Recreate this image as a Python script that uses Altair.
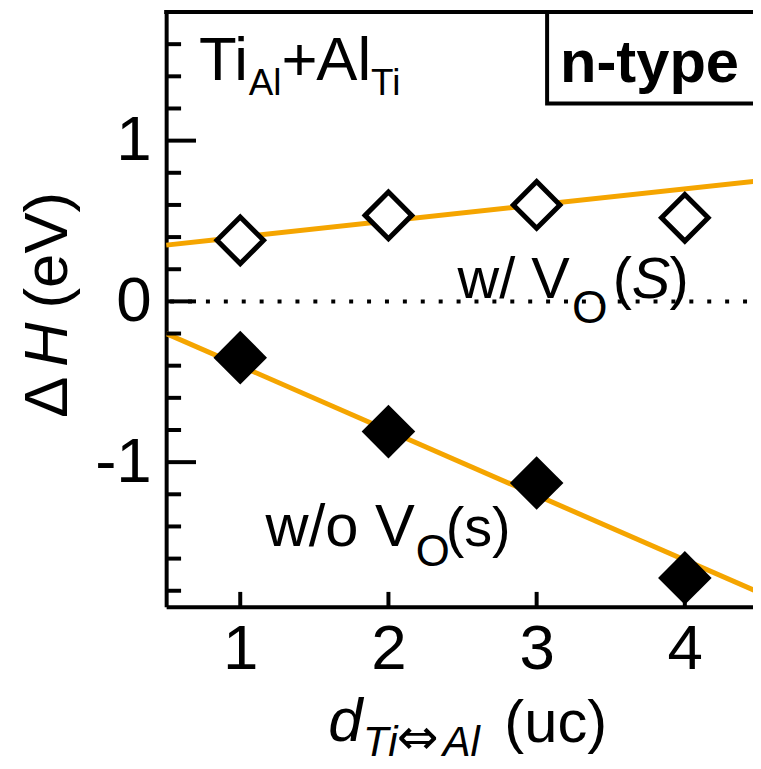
import altair as alt
import pandas as pd

# ---- data ----
x_pos = [1, 2, 3, 4]
dh_with_vo = [0.38, 0.535, 0.60, 0.52]        # open diamonds, w/ V_O(S)
dh_without_vo = [-0.35, -0.81, -1.13, -1.72]  # filled diamonds, w/o V_O(s)
fit_x = [0.5, 4.5]
fit_with = [0.35, 0.75]
fit_without = [-0.20, -1.81]
y_major_ticks = [-1, 0, 1]
y_minor_ticks = [-1.8, -1.6, -1.4, -1.2, -0.8, -0.6, -0.4, -0.2,
                 0.2, 0.4, 0.6, 0.8, 1.2, 1.4, 1.6]
x_ticks = [1, 2, 3, 4]
x_domain = [0.5, 4.46]
y_domain = [-1.9, 1.8]

W, H = 590, 598
FONT = "Liberation Sans, Arial, sans-serif"
ORANGE = "#F5A500"

xs = alt.Scale(domain=x_domain, nice=False, zero=False)
ys = alt.Scale(domain=y_domain, nice=False, zero=False)

lab_expr = "datum.value < 0 ? '-' + format(-datum.value, 'd') : format(datum.value, 'd')"

X_AX = alt.Axis(values=x_ticks, ticks=False, grid=False, title=None, labelExpr=lab_expr,
                labelFont=FONT, labelFontSize=64, labelColor="black", labelPadding=11,
                domainColor="black", domainWidth=4)
Y_AX = alt.Axis(values=y_major_ticks, ticks=False, grid=False, title=None, labelExpr=lab_expr,
                labelFont=FONT, labelFontSize=64, labelColor="black", labelPadding=15,
                domainColor="black", domainWidth=4)

pts = pd.DataFrame({"x": x_pos, "w": dh_with_vo, "wo": dh_without_vo})
fits = pd.DataFrame({"x": fit_x, "w": fit_with, "wo": fit_without})

fit_w = alt.Chart(fits).mark_line(color=ORANGE, strokeWidth=5, clip=True).encode(
    x=alt.X("x:Q", scale=xs, axis=X_AX), y=alt.Y("w:Q", scale=ys, axis=Y_AX))
fit_wo = alt.Chart(fits).mark_line(color=ORANGE, strokeWidth=5, clip=True).encode(
    x=alt.X("x:Q", scale=xs, axis=X_AX), y=alt.Y("wo:Q", scale=ys, axis=Y_AX))

zero_line = alt.Chart(pd.DataFrame({"y": [0]})).mark_rule(
    color="black", strokeWidth=4, strokeDash=[4, 14], strokeDashOffset=14
).encode(y=alt.Y("y:Q", scale=ys, axis=Y_AX), x=alt.value(0), x2=alt.value(W))

open_pts = alt.Chart(pts).mark_point(
    shape="diamond", filled=True, fill="white", stroke="black",
    strokeWidth=5, size=2200, opacity=1
).encode(x=alt.X("x:Q", scale=xs, axis=X_AX), y=alt.Y("w:Q", scale=ys, axis=Y_AX))
filled_pts = alt.Chart(pts).mark_point(
    shape="diamond", filled=True, color="black", size=2900, opacity=1
).encode(x=alt.X("x:Q", scale=xs, axis=X_AX), y=alt.Y("wo:Q", scale=ys, axis=Y_AX))

ymaj = alt.Chart(pd.DataFrame({"v": y_major_ticks})).mark_rule(
    color="black", strokeWidth=4).encode(
    y=alt.Y("v:Q", scale=ys, axis=Y_AX), x=alt.value(0), x2=alt.value(30))
ymin = alt.Chart(pd.DataFrame({"v": y_minor_ticks})).mark_rule(
    color="black", strokeWidth=4).encode(
    y=alt.Y("v:Q", scale=ys, axis=Y_AX), x=alt.value(0), x2=alt.value(15))
xtk = alt.Chart(pd.DataFrame({"v": x_ticks})).mark_rule(
    color="black", strokeWidth=4).encode(
    x=alt.X("v:Q", scale=xs, axis=X_AX), y=alt.value(H - 15), y2=alt.value(H))

top_border = alt.Chart(pd.DataFrame({"a": [0]})).mark_rule(
    color="black", strokeWidth=4).encode(
    y=alt.value(0), x=alt.value(-2), x2=alt.value(W + 30))

box = alt.Chart(pd.DataFrame({"a": [0]})).mark_rect(
    fill="white", stroke="black", strokeWidth=4).encode(
    x=alt.value(383), x2=alt.value(W + 30), y=alt.value(0), y2=alt.value(92))


def txt(s, px, py, size, style="normal", weight="normal", angle=0, align="left", font=FONT):
    return alt.Chart(pd.DataFrame({"t": [s]})).mark_text(
        font=font, fontSize=size, fontStyle=style, fontWeight=weight,
        angle=angle, align=align, baseline="alphabetic", color="black"
    ).encode(text="t:N", x=alt.value(px), y=alt.value(py))


texts = [
    # Ti_Al + Al_Ti
    txt("Ti", 33, 68, 62),
    txt("Al", 83, 83, 37),
    txt("+", 116, 68, 62),
    txt("Al", 151, 68, 62),
    txt("Ti", 206, 83, 37),
    # n-type
    txt("n-type", 396, 70, 60, weight="bold"),
    # w/ V_O(S)
    txt("w/ V", 293, 288, 58),
    txt("O", 408, 313, 46),
    txt("(", 449, 288, 58),
    txt("S", 468, 288, 58, style="italic"),
    txt(")", 506, 288, 58),
    # w/o V_O(s)
    txt("w/o V", 100, 537, 60),
    txt("O", 251, 557, 44),
    txt("(s)", 281, 537, 56),
    # y title: ΔH (eV)
    txt("\u0394", -100, 408, 62, angle=270),
    txt("H", -100, 357, 62, style="italic", angle=270),
    txt("(eV)", -100, 298, 62, angle=270),
    # x title: d_{Ti⇔Al} (uc)
    txt("d", 163, 733, 62, style="italic"),
    txt("Ti", 198, 748, 42, style="italic"),
    txt("\u21d4", 232, 746, 50, font="DejaVu Sans"),
    txt("Al", 278, 748, 42, style="italic"),
    txt("(uc)", 340, 734, 60),
]

chart = alt.layer(
    fit_w, fit_wo, zero_line, open_pts, filled_pts, ymaj, ymin, xtk,
    top_border, box, *texts
).properties(
    width=W, height=H,
    padding={"left": 159, "top": 2, "right": 0, "bottom": 161},
    autosize=alt.AutoSizeParams(type="none"),
    background="white",
).configure_view(stroke=None)

chart.save("out.html", embed_options={"renderer": "svg", "actions": False})
